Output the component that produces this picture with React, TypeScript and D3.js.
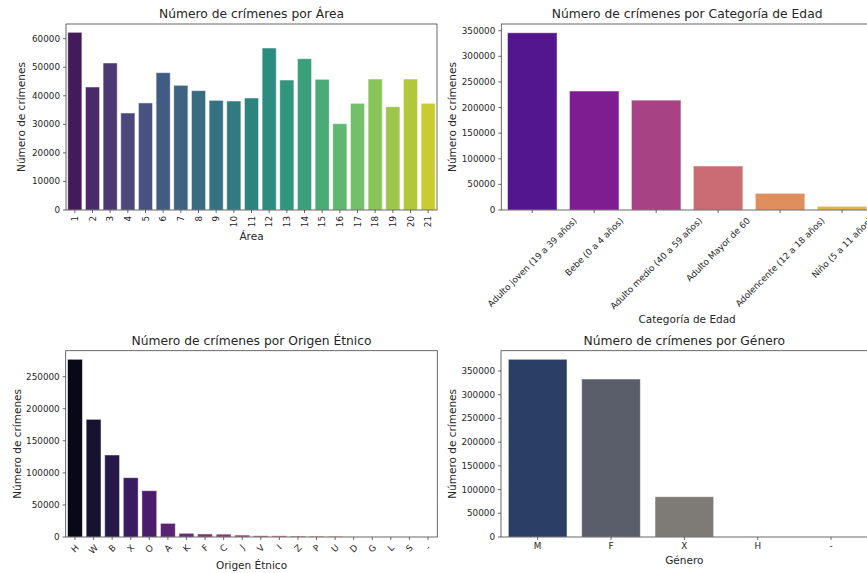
import React, { useEffect, useRef } from "react";
import * as d3 from "d3";

const areaCats = ["1","2","3","4","5","6","7","8","9","10","11","12","13","14","15","16","17","18","19","20","21"];
const areaVals = [62240,43080,51490,33980,37500,48100,43670,41800,38420,38180,39230,56740,45530,53000,45780,30230,37370,45880,36180,45880,37370];

const ageCats = ["Adulto joven (19 a 39 años)","Bebe (0 a 4 años)","Adulto medio (40 a 59 años)","Adulto Mayor de 60","Adolencente (12 a 18 años)","Niño (5 a 11 años)"];
const ageVals = [346000,232300,214500,85900,32600,7200];

const ethCats = ["H","W","B","X","O","A","K","F","C","J","V","I","Z","P","U","D","G","L","S","-"];
const ethVals = [277100,183500,127900,92500,72200,21300,5800,4700,4500,3100,2000,1900,1600,1500,1400,250,150,100,50,10];

const genCats = ["M","F","X","H","-"];
const genVals = [374700,333100,85000,60,10];

const yTicksArea = [0,10000,20000,30000,40000,50000,60000];
const yTicksAge = [0,50000,100000,150000,200000,250000,300000,350000];
const yTicksEth = [0,50000,100000,150000,200000,250000];
const yTicksGen = [0,50000,100000,150000,200000,250000,300000,350000];

const FONT = "DejaVu Sans, sans-serif";
const TXT = "#262626";

function palette(interp: (t: number) => string, n: number) {
  return d3.range(n).map((i) => {
    const c = d3.hsl(interp((i + 1) / (n + 1)));
    c.s = c.s * 0.75;
    return c.formatHex();
  });
}

type Panel = {
  cats: string[];
  vals: number[];
  ticks: number[];
  left: number; right: number; top: number; bottom: number;
  ymax: number;
  colors: string[];
  title: string;
  xlabel: string;
  xlabelY: number;
  ylabelX: number;
  rot: number;
};

export default function App() {
  const ref = useRef<SVGSVGElement>(null);
  useEffect(() => {
    const svg = d3.select(ref.current);
    svg.selectAll("*").remove();
    const panels: Panel[] = [
      { cats: areaCats, vals: areaVals, ticks: yTicksArea, left: 66, right: 437, top: 24, bottom: 210, ymax: 65150,
        colors: palette(d3.interpolateViridis, areaCats.length), title: "Número de crímenes por Área", xlabel: "Área", xlabelY: 236, ylabelX: 20.5, rot: 90 },
      { cats: ageCats, vals: ageVals, ticks: yTicksAge, left: 501.3, right: 873, top: 24, bottom: 210, ymax: 363100,
        colors: palette(d3.interpolatePlasma, ageCats.length), title: "Número de crímenes por Categoría de Edad", xlabel: "Categoría de Edad", xlabelY: 319, ylabelX: 452, rot: 45 },
      { cats: ethCats, vals: ethVals, ticks: yTicksEth, left: 65.7, right: 437.3, top: 350.7, bottom: 537, ymax: 290500,
        colors: palette(d3.interpolateMagma, ethCats.length), title: "Número de crímenes por Origen Étnico", xlabel: "Origen Étnico", xlabelY: 565, ylabelX: 16.7, rot: 45 },
      { cats: genCats, vals: genVals, ticks: yTicksGen, left: 501, right: 867.7, top: 350.7, bottom: 537, ymax: 392800,
        colors: palette(d3.interpolateCividis, genCats.length), title: "Número de crímenes por Género", xlabel: "Género", xlabelY: 560, ylabelX: 452, rot: 0 },
    ];
    panels.forEach((p) => {
      const g = svg.append("g");
      const x = d3.scaleBand<string>().domain(p.cats).range([p.left, p.right]).paddingInner(0.2).paddingOuter(0.1);
      const y = d3.scaleLinear().domain([0, p.ymax]).range([p.bottom, p.top]);
      // bars
      g.selectAll("rect.bar").data(p.cats).enter().append("rect")
        .attr("x", (d) => x(d)!)
        .attr("width", x.bandwidth())
        .attr("y", (d, i) => y(p.vals[i]))
        .attr("height", (d, i) => p.bottom - y(p.vals[i]))
        .attr("fill", (d, i) => p.colors[i])
        .attr("stroke", "rgba(255,255,255,0.55)")
        .attr("stroke-width", 0.9);
      // spines
      g.append("rect").attr("x", p.left).attr("y", p.top).attr("width", p.right - p.left).attr("height", p.bottom - p.top)
        .attr("fill", "none").attr("stroke", "#444").attr("stroke-width", 0.8);
      // y ticks
      p.ticks.forEach((t) => {
        g.append("line").attr("x1", p.left - 3).attr("x2", p.left).attr("y1", y(t)).attr("y2", y(t)).attr("stroke", "#444").attr("stroke-width", 0.8);
        g.append("text").attr("x", p.left - 6).attr("y", y(t)).attr("text-anchor", "end").attr("dominant-baseline", "central")
          .attr("font-family", FONT).attr("font-size", 8.8).attr("fill", TXT).text(String(t));
      });
      // x ticks
      p.cats.forEach((c) => {
        const cx = x(c)! + x.bandwidth() / 2;
        g.append("line").attr("x1", cx).attr("x2", cx).attr("y1", p.bottom).attr("y2", p.bottom + 3).attr("stroke", "#444").attr("stroke-width", 0.8);
        const top = p.bottom + 6;
        const t = g.append("text").attr("font-family", FONT).attr("font-size", 8.8).attr("fill", TXT).text(c);
        if (p.rot === 0) {
          t.attr("x", cx).attr("y", top).attr("text-anchor", "middle").attr("dominant-baseline", "hanging");
        } else if (p.rot === 90) {
          t.attr("text-anchor", "end").attr("dominant-baseline", "central")
            .attr("transform", `translate(${cx},${top}) rotate(-90)`);
        } else {
          const L = (t.node() as SVGTextElement).getComputedTextLength();
          const h = 8.8 * 1.0;
          const s = Math.SQRT1_2;
          const H = L * s + h * s;
          t.attr("text-anchor", "middle").attr("dominant-baseline", "central")
            .attr("transform", `translate(${cx},${top + H / 2}) rotate(-45)`);
        }
      });
      // labels
      const mid = (p.left + p.right) / 2;
      g.append("text").attr("x", mid).attr("y", p.top - 10).attr("text-anchor", "middle").attr("dominant-baseline", "central")
        .attr("font-family", FONT).attr("font-size", 12.3).attr("fill", TXT).text(p.title);
      g.append("text").attr("x", mid).attr("y", p.xlabelY).attr("text-anchor", "middle").attr("dominant-baseline", "central")
        .attr("font-family", FONT).attr("font-size", 10.5).attr("fill", TXT).text(p.xlabel);
      g.append("text").attr("text-anchor", "middle").attr("dominant-baseline", "central")
        .attr("transform", `translate(${p.ylabelX},${(p.top + p.bottom) / 2}) rotate(-90)`)
        .attr("font-family", FONT).attr("font-size", 10.5).attr("fill", TXT).text("Número de crímenes");
    });
  }, []);
  return (
    <svg ref={ref} width={867} height={573} style={{ position: "absolute", left: 0, top: 0, background: "#fff" }} />
  );
}
